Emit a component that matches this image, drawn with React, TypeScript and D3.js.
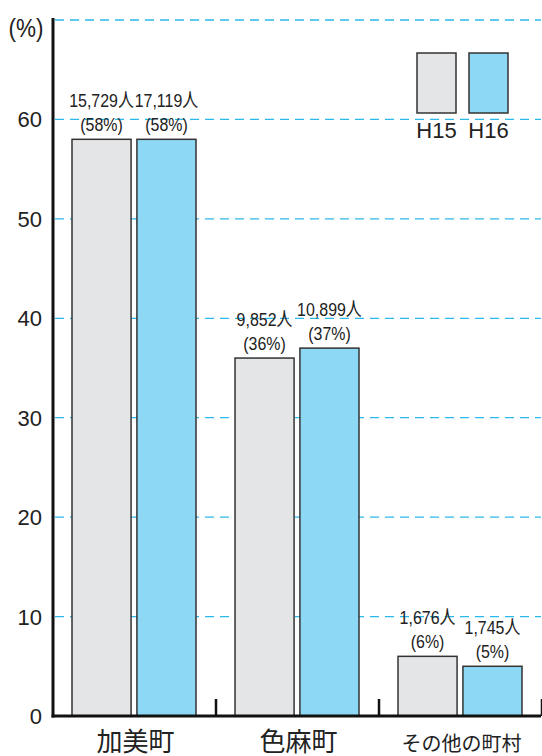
import React from 'react';
import * as d3 from 'd3';

const categories = ['加美町', '色麻町', 'その他の町村'];
const seriesNames = ['H15', 'H16'];
const percentH15 = [58, 36, 6];
const percentH16 = [58, 37, 5];
const peopleH15 = ['15,729人', '9,852人', '1,676人'];
const peopleH16 = ['17,119人', '10,899人', '1,745人'];
const yTicks = [0, 10, 20, 30, 40, 50, 60];

const colors = ['#e4e5e7', '#8dd8f5'];
const gridColor = '#2bb8ea';
const font = '"Liberation Sans", "Noto Sans CJK JP", sans-serif';

const App = () => {
  const W = 542;
  const H = 756;
  const left = 53;
  const right = 541;

  const y = d3.scaleLinear().domain([0, 70]).range([716, 20]);
  const x = d3.scaleBand().domain(categories).range([left, left + 163 * 3]).paddingInner(0).paddingOuter(0);
  const inner = d3.scaleBand().domain(seriesNames).range([19, 143]).paddingInner(0.09);

  const series = [
    { name: 'H15', pct: percentH15, people: peopleH15 },
    { name: 'H16', pct: percentH16, people: peopleH16 },
  ];

  // narrow text, like the condensed face in the original
  const narrow = (cx: number, cy: number, s: string, key: string) => (
    <text key={key} transform={`translate(${cx},${cy}) scale(0.84,1)`} textAnchor="middle"
      fontFamily={font} fontSize={19} fill="#222">{s}</text>
  );

  return (
    <svg width={W} height={H} style={{ position: 'absolute', left: 0, top: 0, background: '#fff' }}>
      {/* grid */}
      {[...yTicks.slice(1), 70].map(t => (
        <line key={t} x1={left + 2} x2={right} y1={y(t)} y2={y(t)}
          stroke={gridColor} strokeWidth={1.3} strokeDasharray="9,6" />
      ))}
      {/* y labels */}
      {yTicks.map(t => (
        <text key={t} x={42} y={y(t) + 8} textAnchor="end" fontFamily={font} fontSize={22} fill="#222">{t}</text>
      ))}
      <text transform="translate(26,37) scale(0.9,1)" textAnchor="middle" fontFamily={font} fontSize={25} fill="#222">(%)</text>

      {/* bars */}
      {series.map((s, si) => (
        <g key={s.name}>
          {categories.map((c, ci) => {
            const bx = (x(c) ?? 0) + (inner(s.name) ?? 0);
            const bw = inner.bandwidth();
            const top = y(s.pct[ci]);
            return (
              <g key={c}>
                <rect x={bx} y={top} width={bw} height={y(0) - top}
                  fill={colors[si]} stroke="#333" strokeWidth={1.5} />
                {narrow(bx + bw / 2, top - 32, s.people[ci], 'a')}
                {narrow(bx + bw / 2, top - 8, `(${s.pct[ci]}%)`, 'b')}
              </g>
            );
          })}
        </g>
      ))}

      {/* axes */}
      <line x1={left} x2={left} y1={18} y2={y(0) + 1.5} stroke="#111" strokeWidth={3} />
      <line x1={left - 1.5} x2={right} y1={y(0)} y2={y(0)} stroke="#111" strokeWidth={3} />
      {categories.map(c => (
        <line key={c} x1={(x(c) ?? 0) + x.bandwidth()} x2={(x(c) ?? 0) + x.bandwidth()}
          y1={y(0) - 17} y2={y(0)} stroke="#111" strokeWidth={2.5} />
      ))}
      {categories.map((c, i) => (
        <text key={c} x={(x(c) ?? 0) + x.bandwidth() / 2 + 1} y={i === 2 ? 751 : 751} textAnchor="middle"
          fontFamily={font} fontSize={i === 2 ? 20 : 26} fill="#222">{c}</text>
      ))}

      {/* legend */}
      {seriesNames.map((n, i) => (
        <g key={n}>
          <rect x={417 + i * 52} y={53} width={39} height={60} fill={colors[i]} stroke="#333" strokeWidth={1.5} />
          <text x={436.5 + i * 52} y={138} textAnchor="middle" fontFamily={font} fontSize={22} fill="#222">{n}</text>
        </g>
      ))}
    </svg>
  );
};

export default App;
